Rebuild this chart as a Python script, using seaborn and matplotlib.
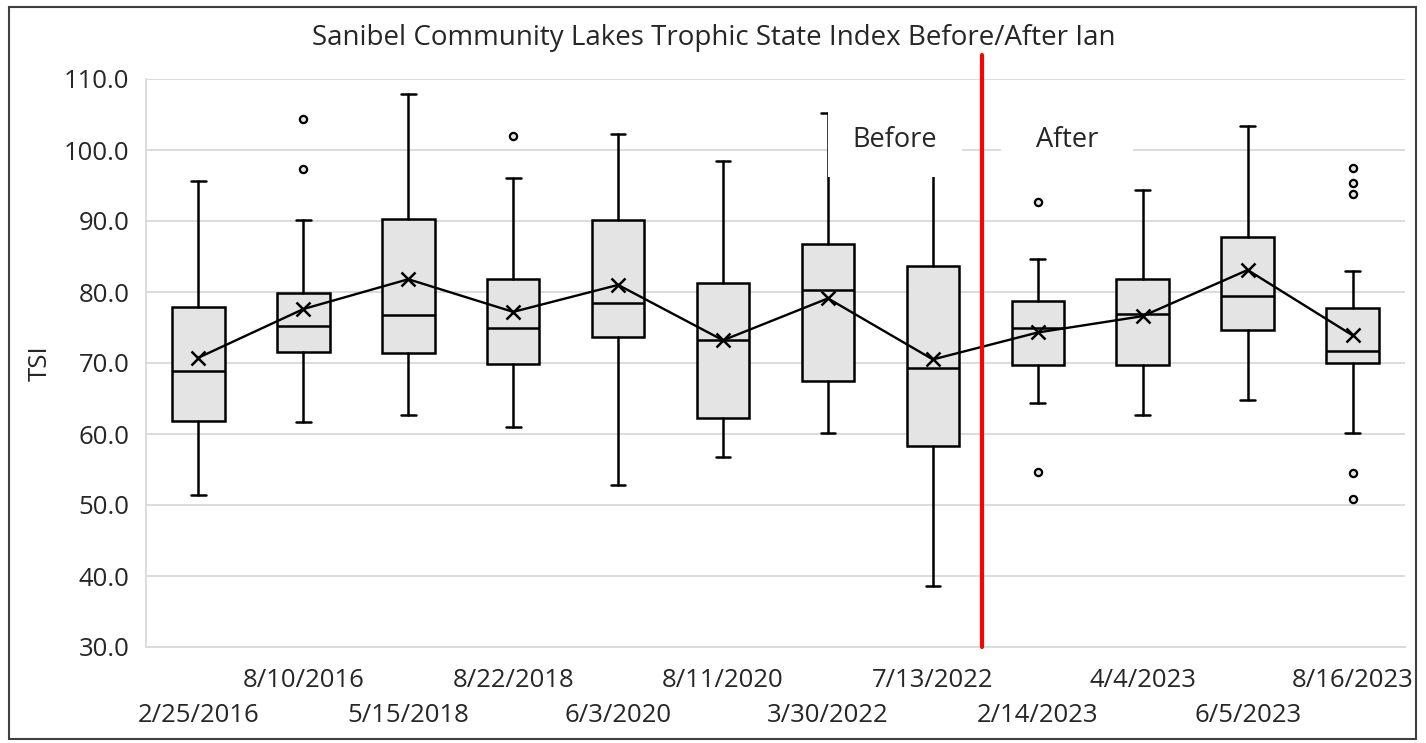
import matplotlib
matplotlib.use("Agg")
import matplotlib.pyplot as plt
from matplotlib.patches import Rectangle
import seaborn as sns
import pandas as pd

# Sampling dates (one box per survey)
dates = ["2/25/2016", "8/10/2016", "5/15/2018", "8/22/2018", "6/3/2020", "8/11/2020",
         "3/30/2022", "7/13/2022", "2/14/2023", "4/4/2023", "6/5/2023", "8/16/2023"]

# Box-and-whisker summary of TSI per survey
whisker_low = [51.4, 61.7, 62.7, 61.0, 52.8, 56.8, 60.2, 38.6, 64.4, 62.7, 64.8, 60.2]
quartile_1 = [61.9, 71.5, 71.4, 69.8, 73.6, 62.3, 67.4, 58.3, 69.7, 69.7, 74.7, 70.0]
median = [68.9, 75.2, 76.7, 75.0, 78.5, 73.3, 80.3, 69.3, 75.0, 76.9, 79.4, 71.7]
quartile_3 = [77.9, 79.8, 90.3, 81.9, 90.1, 81.3, 86.8, 83.6, 78.7, 81.9, 87.8, 77.7]
whisker_high = [95.6, 90.1, 107.9, 96.1, 102.2, 98.4, 105.2, 99.5, 84.6, 94.3, 103.4, 83.0]
mean_tsi = [70.75, 77.6, 81.8, 77.2, 81.0, 73.2, 79.1, 70.5, 74.3, 76.6, 83.1, 73.9]
outliers = [[], [104.3, 97.3], [], [102.0], [], [], [], [],
            [92.7, 54.7], [], [], [97.4, 95.4, 93.8, 54.5, 50.9]]

n_before = 8  # surveys before Hurricane Ian

sns.set_theme(style="white")
plt.rcParams["font.family"] = ["Open Sans", "DejaVu Sans"]

fig = plt.figure(figsize=(14.26, 7.43), dpi=100)
ax = fig.add_axes([146 / 1426, 1 - 647 / 743, (1405 - 146) / 1426, (647 - 79) / 743])

positions = list(range(len(dates)))
stats = [
    dict(whislo=lo, q1=a, med=m, q3=b, whishi=hi, fliers=fl)
    for lo, a, m, b, hi, fl in zip(whisker_low, quartile_1, median, quartile_3, whisker_high, outliers)
]

lw = 1.8
ax.bxp(stats, positions=positions, widths=0.5, capwidths=0.14, patch_artist=True,
       boxprops=dict(facecolor="#e4e4e4", edgecolor="black", linewidth=lw),
       whiskerprops=dict(color="black", linewidth=lw),
       capprops=dict(color="black", linewidth=lw),
       medianprops=dict(color="black", linewidth=lw),
       flierprops=dict(marker="o", markersize=5.2, markerfacecolor="#e4e4e4",
                       markeredgecolor="black", markeredgewidth=1.6),
       zorder=2)

# Mean line with x markers
means_df = pd.DataFrame({"pos": positions, "mean": mean_tsi})
sns.lineplot(data=means_df, x="pos", y="mean", ax=ax, color="black", linewidth=1.7,
             marker="x", markersize=9.5, markeredgewidth=1.8, markeredgecolor="black",
             zorder=3)

# Before / After labels sit in white text boxes
for x0, x1 in [(6.0, 7.28), (7.65, 8.91)]:
    ax.add_patch(Rectangle((x0, 96.2), x1 - x0, 10.1, facecolor="white",
                           edgecolor="none", zorder=4))
ax.text(6.64, 101.4, "Before", ha="center", va="center", fontsize=19.5, color="#262626", zorder=5)
ax.text(8.28, 101.4, "After", ha="center", va="center", fontsize=19.5, color="#262626", zorder=5)

# Hurricane Ian divider
ax.axvline(n_before - 0.53, ymin=0, ymax=1.042, color="red", linewidth=3, clip_on=False, zorder=6)

ax.set_xlim(-0.5, len(dates) - 0.5)
ax.set_ylim(30, 110)
ax.set_yticks(range(30, 111, 10))
ax.set_yticklabels([f"{v:.1f}" for v in range(30, 111, 10)])
ax.yaxis.grid(True, color="#d9d9d9", linewidth=1.3)
ax.set_axisbelow(True)

# Staggered date labels on two rows
ax.set_xticks(positions[0::2], labels=dates[0::2])
ax.set_xticks(positions[1::2], labels=dates[1::2], minor=True)
ax.tick_params(axis="x", which="both", length=0, labelsize=18.5, labelcolor="#262626")
ax.tick_params(axis="x", which="major", pad=40)
ax.tick_params(axis="x", which="minor", pad=15)
ax.tick_params(axis="y", length=5, color="#d9d9d9", width=1.3, pad=7,
               labelsize=18.5, labelcolor="#262626")

for side in ["top", "right"]:
    ax.spines[side].set_visible(False)
for side in ["left", "bottom"]:
    ax.spines[side].set_color("#d9d9d9")
    ax.spines[side].set_linewidth(1.3)

ax.set_xlabel("")
ax.set_ylabel("TSI", fontsize=18.5, color="#262626")
ax.yaxis.set_label_coords((53 - 146) / 1259, 0.5)

fig.text(714 / 1426, 1 - 38 / 743, "Sanibel Community Lakes Trophic State Index Before/After Ian",
         ha="center", va="center", fontsize=20, color="#262626")

# Chart border
fig.add_artist(Rectangle((9 / 1426, 1 - 739 / 743), (1416 - 9) / 1426, (739 - 7) / 743,
                         transform=fig.transFigure, fill=False, edgecolor="#404040", linewidth=1.5))

fig.savefig("out.png", dpi=100)
